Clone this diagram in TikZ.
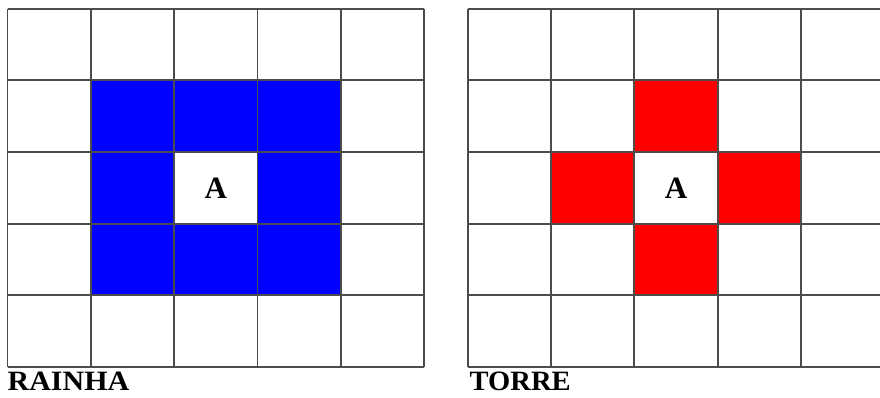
\documentclass[tikz,border=0pt]{standalone}
\usepackage{fontspec}
\setmainfont{Liberation Serif}
\begin{document}
\begin{tikzpicture}[x=1pt,y=-1pt,
  gridline/.style={draw=black!70,line width=1.8pt},
  bluecell/.style={fill=blue},
  redcell/.style={fill=red},
  lbl/.style={anchor=base west,inner sep=0pt,font=\bfseries\fontsize{28}{28}\selectfont},
  cellA/.style={inner sep=0pt,font=\bfseries\fontsize{31}{31}\selectfont}]
\useasboundingbox (0,0) rectangle (880,397);
\def\cw{83.3}
\def\ch{71.66}
% left grid (Rainha)
\begin{scope}[shift={(7.5,8.7)}]
  \foreach \c/\r in {0/0,1/0,2/0,0/1,2/1,0/2,1/2,2/2}
    \fill[bluecell] ({(\c+1)*\cw},{(\r+1)*\ch}) rectangle ++(\cw,\ch);
  \foreach \i in {0,...,5} {
    \draw[gridline] ({\i*\cw},0) -- ({\i*\cw},{5*\ch});
    \draw[gridline] (0,{\i*\ch}) -- ({5*\cw},{\i*\ch});
  }
  \node[cellA] (a1) at ({2.5*\cw},{2.5*\ch}) {A};
\end{scope}
% right grid (Torre)
\begin{scope}[shift={(467.7,8.7)}]
  \foreach \c/\r in {2/1,1/2,3/2,2/3}
    \fill[redcell] ({\c*\cw},{\r*\ch}) rectangle ++(\cw,\ch);
  \foreach \i in {0,...,5} {
    \draw[gridline] ({\i*\cw},0) -- ({\i*\cw},{5*\ch});
    \draw[gridline] (0,{\i*\ch}) -- ({5*\cw},{\i*\ch});
  }
  \node[cellA] (a2) at ({2.5*\cw},{2.5*\ch}) {A};
\end{scope}
\node[lbl,xscale=1.07] (rainha) at (7.5,390.5) {RAINHA};
\node[lbl,xscale=1.02] (torre) at (469.5,390.5) {TORRE};
\end{tikzpicture}
\end{document}
